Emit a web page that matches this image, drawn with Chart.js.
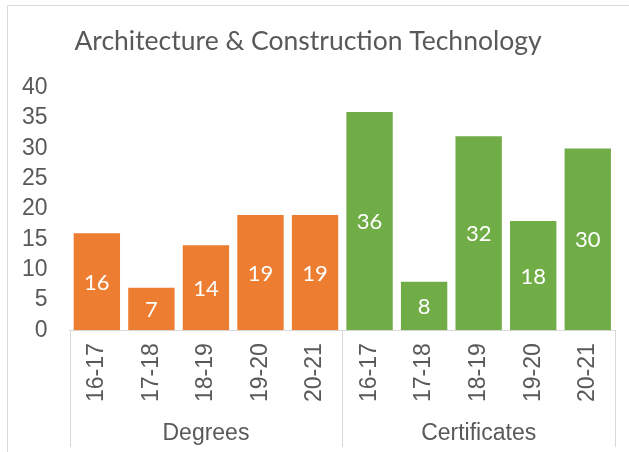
<!DOCTYPE html>
<html>
<head>
<meta charset="utf-8">
<script src="https://cdn.jsdelivr.net/npm/chart.js@4"></script>
<style>
  body { margin: 0; background: #fff; }
  #wrap { width: 629px; height: 452px; }
</style>
</head>
<body>
<div id="wrap"><canvas id="chart" width="629" height="452"></canvas></div>
<script>
// chart data
const years = ['16-17', '17-18', '18-19', '19-20', '20-21'];
const groups = ['Degrees', 'Certificates'];
const degrees = [16, 7, 14, 19, 19];
const certificates = [36, 8, 32, 18, 30];
const groupColors = ['#ED7D31', '#70AD47'];
const yTicks = [0, 5, 10, 15, 20, 25, 30, 35, 40];

const labels = years.concat(years);
const values = degrees.concat(certificates);
const colors = degrees.map(() => groupColors[0]).concat(certificates.map(() => groupColors[1]));

// light frame at the top and left of the picture
const framePlugin = {
  id: 'frame',
  beforeDraw(chart) {
    const ctx = chart.ctx;
    ctx.save();
    ctx.strokeStyle = '#d9d9d9';
    ctx.lineWidth = 1;
    ctx.beginPath();
    ctx.moveTo(7.5, chart.height);
    ctx.lineTo(7.5, 5.5);
    ctx.lineTo(chart.width, 5.5);
    ctx.stroke();
    ctx.restore();
  }
};

// white value labels in the middle of each bar
const valueLabels = {
  id: 'valueLabels',
  afterDatasetsDraw(chart) {
    const ctx = chart.ctx;
    const meta = chart.getDatasetMeta(0);
    ctx.save();
    ctx.fillStyle = '#ffffff';
    ctx.font = '22px Lato, "Open Sans", sans-serif';
    ctx.textAlign = 'center';
    ctx.textBaseline = 'middle';
    meta.data.forEach((bar, i) => {
      ctx.fillText(values[i], bar.x, (bar.y + bar.base) / 2 + 1);
    });
    ctx.restore();
  }
};

// group separators and group names under the category labels
const groupAxis = {
  id: 'groupAxis',
  afterDraw(chart) {
    const ctx = chart.ctx;
    const x = chart.scales.x;
    const half = (x.getPixelForValue(1) - x.getPixelForValue(0)) / 2;
    const top = chart.chartArea.bottom;
    const bottom = x.bottom + 32;
    ctx.save();
    ctx.strokeStyle = '#d9d9d9';
    ctx.lineWidth = 1;
    ctx.fillStyle = '#595959';
    ctx.font = '23px "Liberation Sans", Arial, sans-serif';
    ctx.textAlign = 'center';
    ctx.textBaseline = 'middle';
    groups.forEach((g, gi) => {
      const first = gi * years.length;
      const last = first + years.length - 1;
      const left = x.getPixelForValue(first) - half;
      const right = x.getPixelForValue(last) + half;
      ctx.beginPath();
      ctx.moveTo(Math.round(left) + 0.5, top);
      ctx.lineTo(Math.round(left) + 0.5, bottom);
      if (gi === groups.length - 1) {
        ctx.moveTo(Math.round(right) + 0.5, top);
        ctx.lineTo(Math.round(right) + 0.5, bottom);
      }
      ctx.stroke();
      ctx.fillText(g, (left + right) / 2, x.bottom + 19);
    });
    ctx.restore();
  }
};

new Chart(document.getElementById('chart'), {
  type: 'bar',
  data: {
    labels: labels,
    datasets: [{
      data: values,
      backgroundColor: colors,
      barPercentage: 0.85,
      categoryPercentage: 1.0
    }]
  },
  options: {
    responsive: false,
    animation: false,
    events: [],
    layout: { padding: { left: 0, right: 13, top: 0, bottom: 37 } },
    plugins: {
      legend: { display: false },
      tooltip: { enabled: false },
      title: {
        display: true,
        text: 'Architecture & Construction Technology',
        color: '#595959',
        font: { family: 'Lato, "Open Sans", sans-serif', size: 26.5, weight: 'normal' },
        padding: { top: 26, bottom: 30 }
      }
    },
    scales: {
      x: {
        grid: { display: false, drawTicks: false },
        border: { display: true, color: '#d9d9d9' },
        ticks: {
          color: '#595959',
          font: { family: '"Liberation Sans", Arial, sans-serif', size: 23 },
          minRotation: 90,
          maxRotation: 90,
          padding: 13,
          autoSkip: false
        }
      },
      y: {
        min: 0,
        max: 40,
        afterBuildTicks(scale) {
          scale.ticks = yTicks.map(v => ({ value: v }));
        },
        grid: { display: false, drawTicks: false },
        border: { display: false },
        ticks: {
          color: '#595959',
          font: { family: '"Liberation Sans", Arial, sans-serif', size: 23 },
          padding: 22,
          autoSkip: false
        }
      }
    }
  },
  plugins: [framePlugin, valueLabels, groupAxis]
});
</script>
</body>
</html>
